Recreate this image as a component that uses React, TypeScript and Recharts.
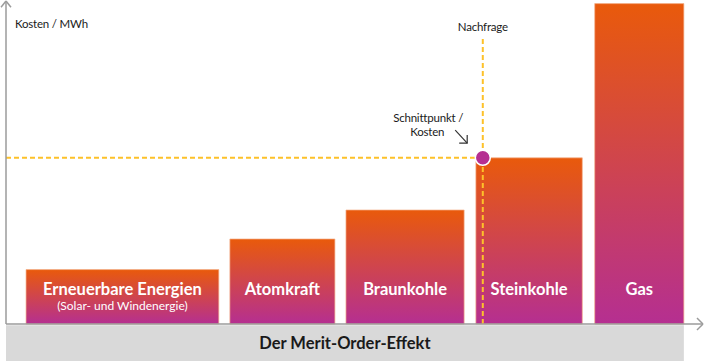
import { ComposedChart, XAxis, YAxis, ReferenceArea, ReferenceLine, ReferenceDot } from 'recharts';

// merit order: blocks by capacity (x) and marginal cost (y), arbitrary units 0..100
const sources = ['Erneuerbare Energien', 'Atomkraft', 'Braunkohle', 'Steinkohle', 'Gas'];
const subtitles = ['(Solar- und Windenergie)', '', '', '', ''];
const blockStart = [2.9, 32.4, 49.2, 68.0, 85.2];
const blockEnd = [30.8, 47.6, 66.3, 83.4, 98.1];
const marginalCost = [16.9, 26.4, 35.4, 51.6, 99.5];
const demand = 69.0;
const demandTop = 88.8;
const clearingPrice = 51.6;
const chartTitle = 'Der Merit-Order-Effekt';
const yLabel = 'Kosten / MWh';
const demandLabel = 'Nachfrage';
const crossLabel = ['Schnittpunkt /', 'Kosten'];

const font = 'Lato, "Open Sans", sans-serif';
const axisColor = '#9B9B9B';
const dashColor = '#FDC12A';

const data = sources.map((name, i) => ({
  name,
  x: (blockStart[i] + blockEnd[i]) / 2,
  cost: marginalCost[i],
}));

const barLabel = (i: number) => (props: any) => {
  const vb = props.viewBox || {};
  const cx = vb.x + vb.width / 2;
  const bottom = vb.y + vb.height;
  return (
    <g>
      <text x={cx} y={bottom - 29} textAnchor="middle" fill="#fff" fontSize={16.5} fontWeight={700} fontFamily={font}>
        {sources[i]}
      </text>
      {subtitles[i] && (
        <text x={cx} y={bottom - 14} textAnchor="middle" fill="#fff" fontSize={12} fontFamily={font}>
          {subtitles[i]}
        </text>
      )}
    </g>
  );
};

const bandLabel = (props: any) => {
  const vb = props.viewBox || {};
  return (
    <text x={vb.x + vb.width / 2} y={vb.y + vb.height / 2 + 6} textAnchor="middle" fill="#1a1a1a" fontSize={16.5} fontWeight={700} fontFamily={font}>
      {chartTitle}
    </text>
  );
};

const note = { fill: '#1a1a1a', fontSize: 11.5, fontFamily: font, letterSpacing: -0.2 };

const App = () => {
  return (
    <div style={{ position: 'absolute', left: 0, top: 0 }}>
      <ComposedChart width={705} height={362} data={data} margin={{ top: 2, right: 8, bottom: 38, left: 6 }}>
        <defs>
          <linearGradient id="meritGrad" x1="0" y1="0" x2="0" y2="1">
            <stop offset="0%" stopColor="#E95A0B" />
            <stop offset="100%" stopColor="#B52F91" />
          </linearGradient>
        </defs>
        <XAxis type="number" dataKey="x" domain={[0, 100]} hide allowDataOverflow />
        <YAxis type="number" dataKey="cost" domain={[0, 100]} hide allowDataOverflow />

        <ReferenceArea x1={0} x2={blockEnd[4]} y1={-11.5} y2={-0.35} fill="#D9D9D9" fillOpacity={1} ifOverflow="visible" label={bandLabel} />

        {sources.map((s, i) => (
          <ReferenceArea
            key={s}
            x1={blockStart[i]}
            x2={blockEnd[i]}
            y1={0}
            y2={marginalCost[i]}
            fill="url(#meritGrad)"
            fillOpacity={1}
            stroke="#F3B08C"
            strokeOpacity={0.7}
            strokeWidth={1}
            ifOverflow="visible"
            label={barLabel(i)}
          />
        ))}

        <ReferenceLine segment={[{ x: 0, y: clearingPrice }, { x: demand, y: clearingPrice }]} stroke={dashColor} strokeWidth={2} strokeDasharray="5 3" ifOverflow="visible" />
        <ReferenceLine segment={[{ x: demand, y: 0 }, { x: demand, y: demandTop }]} stroke={dashColor} strokeWidth={2} strokeDasharray="5 3" ifOverflow="visible" />

        {/* axes with arrow heads */}
        <ReferenceLine segment={[{ x: 0, y: 0 }, { x: 0, y: 100.3 }]} stroke={axisColor} strokeWidth={1.5} ifOverflow="visible" />
        <ReferenceLine segment={[{ x: -0.72, y: 98.4 }, { x: 0, y: 100.3 }]} stroke={axisColor} strokeWidth={1.5} ifOverflow="visible" />
        <ReferenceLine segment={[{ x: 0.72, y: 98.4 }, { x: 0, y: 100.3 }]} stroke={axisColor} strokeWidth={1.5} ifOverflow="visible" />
        <ReferenceLine segment={[{ x: 0, y: 0 }, { x: 100.87, y: 0 }]} stroke={axisColor} strokeWidth={1.5} ifOverflow="visible" />
        <ReferenceLine segment={[{ x: 100.0, y: 1.86 }, { x: 100.87, y: 0 }]} stroke={axisColor} strokeWidth={1.5} ifOverflow="visible" />
        <ReferenceLine segment={[{ x: 100.0, y: -1.86 }, { x: 100.87, y: 0 }]} stroke={axisColor} strokeWidth={1.5} ifOverflow="visible" />

        <ReferenceDot x={demand} y={clearingPrice} r={7.5} fill="#B52F91" stroke="#fff" strokeWidth={1.5} ifOverflow="visible" />

        <ReferenceDot
          x={1.3}
          y={91.9}
          ifOverflow="visible"
          shape={(p: any) => (
            <text x={p.cx} y={p.cy} {...note}>
              {yLabel}
            </text>
          )}
        />
        <ReferenceDot
          x={demand}
          y={91.0}
          ifOverflow="visible"
          shape={(p: any) => (
            <text x={p.cx} y={p.cy} textAnchor="middle" {...note}>
              {demandLabel}
            </text>
          )}
        />
        <ReferenceDot
          x={61.1}
          y={62.7}
          ifOverflow="visible"
          shape={(p: any) => (
            <g>
              <text x={p.cx} y={p.cy} textAnchor="middle" {...note}>
                {crossLabel[0]}
              </text>
              <text x={p.cx - 1} y={p.cy + 14} textAnchor="middle" {...note}>
                {crossLabel[1]}
              </text>
              <line x1={p.cx + 27} y1={p.cy + 8} x2={p.cx + 39} y2={p.cy + 21} stroke="#333" strokeWidth={1.2} />
              <polyline points={`${p.cx + 31},${p.cy + 21} ${p.cx + 39},${p.cy + 21} ${p.cx + 39},${p.cy + 13}`} fill="none" stroke="#333" strokeWidth={1.2} />
            </g>
          )}
        />
      </ComposedChart>
    </div>
  );
};

export default App;
